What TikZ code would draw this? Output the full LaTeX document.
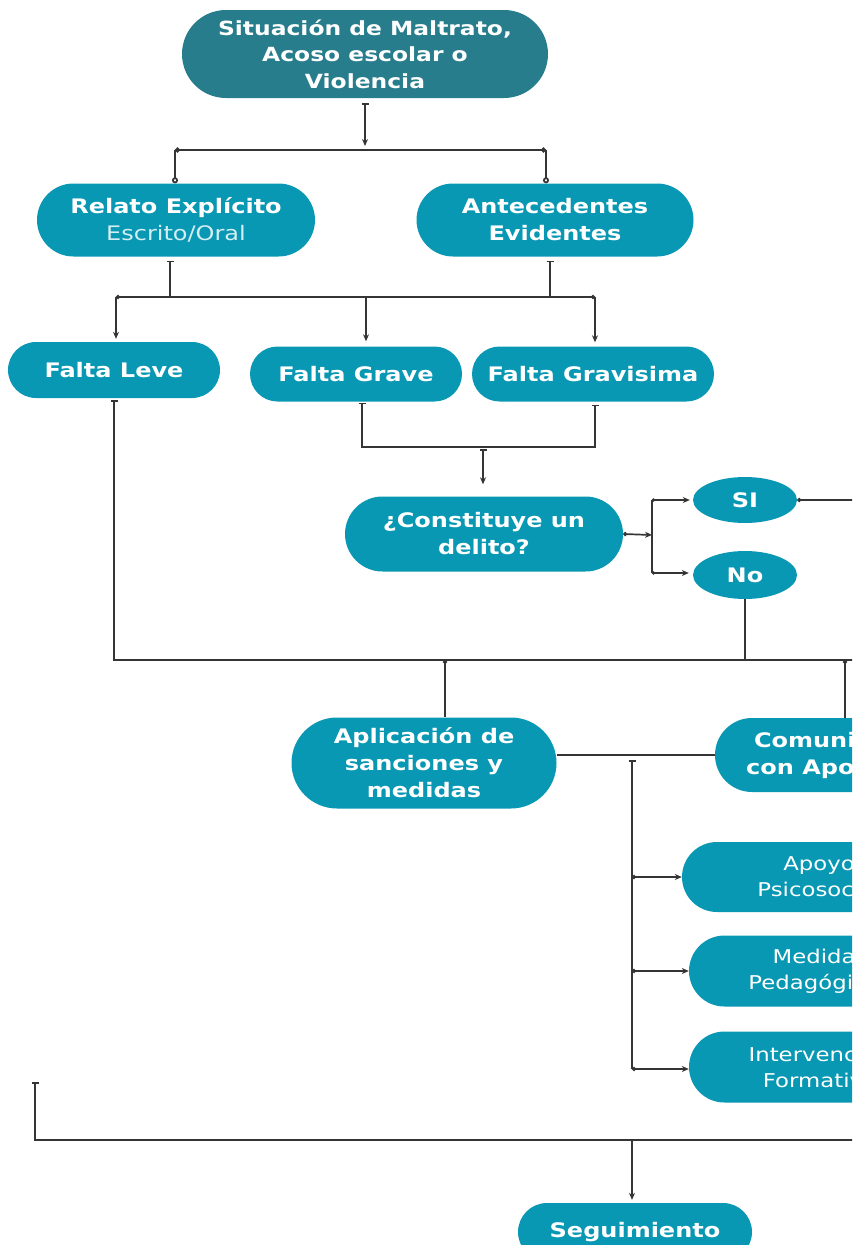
\documentclass[tikz,border=0pt]{standalone}
\usepackage{fontspec}
\setmainfont{DejaVu Sans}[FakeStretch=1.2]
\usepackage{xcolor}
\usetikzlibrary{positioning,arrows.meta,shapes.misc,shapes.geometric}
\definecolor{tealA}{HTML}{277D8C}
\definecolor{tealB}{HTML}{0898B3}
\definecolor{lineC}{HTML}{353535}
\definecolor{paleT}{HTML}{D4EEF3}

\begin{document}
\begin{tikzpicture}[x=1pt,y=-1pt,
	box/.style={rounded rectangle,fill=tealB,text=white,align=center,inner sep=0pt,font=\fontsize{20}{27}\selectfont\bfseries},
	oval/.style={ellipse,fill=tealB,text=white,inner sep=0pt,font=\fontsize{20}{27}\selectfont\bfseries},
	soft/.style={font=\fontsize{19}{26}\selectfont\mdseries},
	wire/.style={draw=lineC,line width=1.7pt},
	>={Stealth[length=7pt,width=6pt]},
	tbar/.style={{Bar[width=7pt]}-},
	dot/.style={{Circle[length=4pt]}-}]
	\clip (0,0) rectangle (852,1245);
	\node[box,fill=tealA,minimum width=366,minimum height=88,font=\fontsize{19.5}{26.5}\selectfont\bfseries] (maltrato) at (365,54) {Situación de Maltrato,\\Acoso escolar o\\Violencia};
	\node[box,minimum width=278,minimum height=73] (relato) at (176,220) {Relato Explícito\\{\color{paleT}\mdseries Escrito/Oral}};
	\node[box,minimum width=277,minimum height=73] (antecedentes) at (555,220) {Antecedentes\\Evidentes};
	\node[box,minimum width=212,minimum height=56] (leve) at (114,370) {Falta Leve};
	\node[box,minimum width=212,minimum height=55] (grave) at (356,374) {Falta Grave};
	\node[box,minimum width=242,minimum height=55] (gravisima) at (593,374) {Falta Gravisima};
	\node[box,minimum width=278,minimum height=75] (delito) at (484,534) {¿Constituye un\\delito?};
	\node[oval,minimum width=104,minimum height=46] (si) at (745,500) {SI};
	\node[oval,minimum width=104,minimum height=48] (no) at (745,575) {No};
	\node[box,minimum width=265,minimum height=91] (sanciones) at (424,763) {Aplicación de\\sanciones y\\medidas};
	\node[box,minimum width=266,minimum height=74] (apoderado) at (848,755) {Comunicación\\con Apoderado};
	\node[box,soft,minimum width=274,minimum height=70] (psicosocial) at (819,877) {Apoyo\\Psicosocial};
	\node[box,soft,minimum width=262,minimum height=71] (pedagogicas) at (820,971) {Medidas\\Pedagógicas};
	\node[box,soft,minimum width=262,minimum height=71] (formativa) at (820,1067) {Intervención\\Formativa};
	\node[box,minimum width=234,minimum height=58] (seguimiento) at (635,1232) {Seguimiento};

	\coordinate (a0) at (365,150); \coordinate (a1) at (175,150); \coordinate (a2) at (546,150);
	\coordinate (b0) at (116,297); \coordinate (b1) at (595,297); \coordinate (b2) at (170,297);
	\coordinate (b3) at (550,297); \coordinate (b4) at (366,297);
	\coordinate (c0) at (483,447); \coordinate (c1) at (362,447); \coordinate (c2) at (595,447);
	\coordinate (d0) at (652,535); \coordinate (d1) at (652,500); \coordinate (d2) at (652,573);
	\coordinate (sout) at (860,500);
	\coordinate (e0) at (860,660); \coordinate (e1) at (445,660); \coordinate (e2) at (845,660);
	\coordinate (f0) at (632,760); \coordinate (f1) at (632,877); \coordinate (f2) at (632,971); \coordinate (f3) at (632,1069);
	\coordinate (g0) at (35,1082); \coordinate (g1) at (860,1140); \coordinate (g2) at (632,1140);

	\draw[wire,{Bar[width=7pt]}->,shorten <=5pt,shorten >=4pt] (maltrato) -- (a0);
	\draw[wire,{Circle[length=5pt]}-{Circle[length=5pt]}] (a1) -- (a2);
	\draw[wire,-{Circle[open,length=6pt]}] (a1) -- (a1 |- relato.north);
	\draw[wire,-{Circle[open,length=6pt]}] (a2) -- (a2 |- antecedentes.north);
	\draw[wire,tbar,shorten <=4pt] (b2 |- relato.south) -- (b2);
	\draw[wire,tbar,shorten <=4pt] (b3 |- antecedentes.south) -- (b3);
	\draw[wire,{Circle[length=4pt]}-{Circle[length=4pt]}] (b0) -- (b1);
	\draw[wire,->,shorten >=3pt] (b0) -- (b0 |- leve.north);
	\draw[wire,dot,->,shorten >=5pt] (b4) -- (b4 |- grave.north);
	\draw[wire,->,shorten >=4pt] (b1) -- (b1 |- gravisima.north);
	\draw[wire,{Bar[width=7pt]}-{Bar[width=7pt]},shorten <=1pt,shorten >=3pt] (c1 |- grave.south) -- (c1) -- (c2) -- (c2 |- gravisima.south);
	\draw[wire,{Bar[width=7pt]}->,shorten <=2pt,shorten >=12pt] (c0) -- (c0 |- delito.north);
	\draw[wire,{Circle[length=4pt]}->] (delito.east) -- (d0);
	\draw[wire] (d1) -- (d2);
	\draw[wire,{Circle[length=3pt]}->,shorten >=3pt] (d1) -- (si);
	\draw[wire,{Circle[length=3pt]}->,shorten >=4pt] (d2) -- (d2 -| no.west);
	\draw[wire,dot] (si) -- (sout);
	\draw[wire] (no) -- (no |- e0);
	\draw[wire,tbar,shorten <=2pt] (leve.south) |- (e0);
	\draw[wire,dot] (e1) -- (e1 |- sanciones.north);
	\draw[wire,dot] (e2) -- (e2 |- apoderado.north);
	\draw[wire] (sanciones.east |- apoderado.west) -- (apoderado.west);
	\draw[wire,tbar] (f0) -- (f3);
	\draw[wire,{Circle[length=4pt]}->] (f1) -- (psicosocial);
	\draw[wire,{Circle[length=4pt]}->] (f2) -- (pedagogicas);
	\draw[wire,{Circle[length=4pt]}->] (f3) -- (f3 -| formativa.west);
	\draw[wire,tbar] (g0) |- (g1);
	\draw[wire,->,shorten >=3pt] (g2) -- (g2 |- seguimiento.north);
\end{tikzpicture}
\end{document}
